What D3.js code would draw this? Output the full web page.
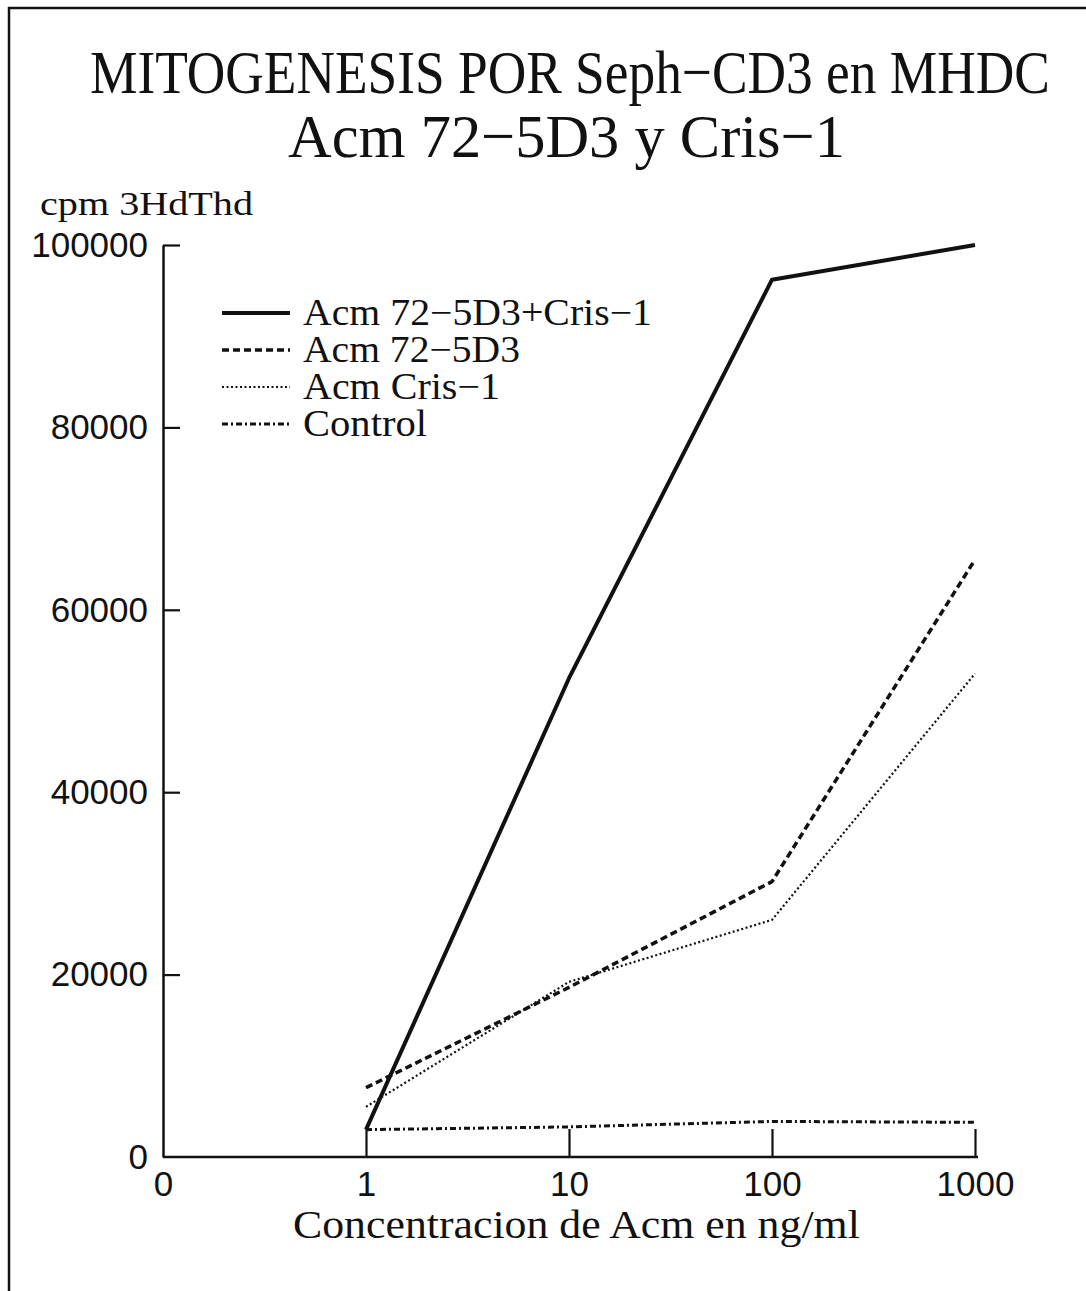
<html lang="es">
<head>
<meta charset="UTF-8">
<title>Mitogenesis por Seph-CD3 en MHDC</title>
<style>
  body { margin: 0; background: #fff; }
  svg { display: block; }
  .tick text { font-family: "Liberation Sans", Arial, sans-serif; font-size: 35px; fill: #111; }
  .serif { font-family: "Liberation Serif", "Times New Roman", serif; fill: #111; }
</style>
</head>
<body>
<svg id="chart" width="1086" height="1291"></svg>
<script src="https://d3js.org/d3.v7.min.js"></script>
<script>
// categorias del eje x (espaciado logaritmico, 0 en el origen)
const xLabels = ["0", "1", "10", "100", "1000"];
const conc = ["1", "10", "100", "1000"];
const yTicks = [0, 20000, 40000, 60000, 80000, 100000];

// cpm 3HdThd por serie
const seriesNames = ["Acm 72\u22125D3+Cris\u22121", "Acm 72\u22125D3", "Acm Cris\u22121", "Control"];
const mixValues = [3000, 52500, 96200, 100000];
const d3Values = [7600, 18600, 30200, 65500];
const crisValues = [5500, 19200, 26000, 53000];
const controlValues = [3000, 3300, 3900, 3800];

const seriesValues = [mixValues, d3Values, crisValues, controlValues];
const styles = [
  { w: 4, dash: null },
  { w: 3.5, dash: "7,4" },
  { w: 2.2, dash: "2,2.5" },
  { w: 3, dash: "6,3,2,3" }
];

const svg = d3.select("#chart");

// texto en serif estrechado a un ancho dado (x = borde izquierdo)
function serifText(str, left, base, size, width) {
  const t = svg.append("text").attr("class", "serif")
    .attr("font-size", size).text(str);
  const w = t.node().getComputedTextLength();
  t.attr("transform", `translate(${left},${base}) scale(${width / w},1)`);
  return t;
}

// marco de la pagina escaneada
svg.append("path").attr("d", "M9,1291 V8 H1086")
  .attr("fill", "none").attr("stroke", "#111").attr("stroke-width", 2.5);

const x = d3.scalePoint().domain(xLabels).range([163, 975]);
const y = d3.scaleLinear().domain([0, 100000]).range([1157, 245]);

// titulo
serifText("MITOGENESIS POR Seph\u2212CD3 en MHDC", 90, 93, 62, 960);
serifText("Acm 72\u22125D3 y Cris\u22121", 288, 157, 62, 557);
serifText("cpm 3HdThd", 40, 215, 33, 213);

// ejes
const yAxis = svg.append("g").attr("transform", "translate(163,0)")
  .call(d3.axisLeft(y).tickValues(yTicks).tickFormat(d3.format("d"))
    .tickSizeInner(-17).tickSizeOuter(0).tickPadding(15));
yAxis.selectAll(".tick").filter(d => d === 0).select("line").remove();

const xAxis = svg.append("g").attr("transform", "translate(0,1157)")
  .call(d3.axisBottom(x).tickSizeInner(-28).tickSizeOuter(0).tickPadding(14));
xAxis.selectAll(".tick").filter(d => d === "0").select("line").remove();

svg.selectAll(".domain").attr("stroke", "#111").attr("stroke-width", 2.5);
svg.selectAll(".tick line").attr("stroke", "#111").attr("stroke-width", 2.2);
xAxis.select(".domain").attr("d", "M163,0H978");

serifText("Concentracion de Acm en ng/ml", 293, 1238, 40, 567);

// series
const line = d3.line().x((d, i) => x(conc[i])).y(d => y(d));
seriesValues.forEach((vals, k) => {
  svg.append("path").datum(vals)
    .attr("d", line)
    .attr("fill", "none").attr("stroke", "#111")
    .attr("stroke-width", styles[k].w)
    .attr("stroke-dasharray", styles[k].dash)
    .attr("stroke-linejoin", "round");
});

// leyenda
const legendWidths = [349, 217, 197, 124];
seriesNames.forEach((name, i) => {
  const cy = 313 + i * 37;
  svg.append("line").attr("x1", 222).attr("x2", 290).attr("y1", cy).attr("y2", cy)
    .attr("stroke", "#111")
    .attr("stroke-width", styles[i].w)
    .attr("stroke-dasharray", styles[i].dash);
  serifText(name, 303, cy + 12, 37, legendWidths[i]);
});
</script>
</body>
</html>
